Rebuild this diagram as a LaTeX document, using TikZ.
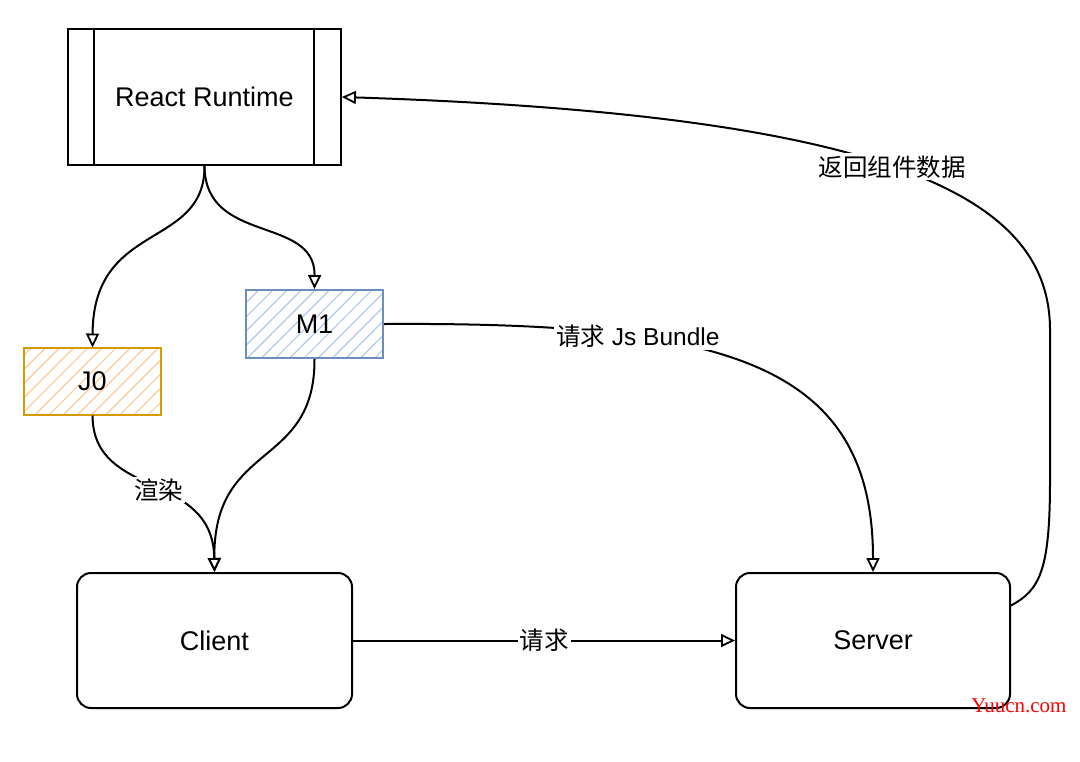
\documentclass[tikz,border=0pt]{standalone}
\usepackage{fontspec}
\setmainfont{Liberation Sans}
\newfontfamily\cjk{Noto Sans CJK SC}
\newfontfamily\wmfont{Liberation Serif}
\usetikzlibrary{arrows.meta,patterns.meta}
\definecolor{jline}{HTML}{D79B00}
\definecolor{jfill}{HTML}{FFC38A}
\definecolor{mline}{HTML}{6C8EBF}
\definecolor{mfill}{HTML}{A9C4EC}
\begin{document}
\begin{tikzpicture}[x=0.5pt,y=-0.5pt,
  nodetext/.style={font=\fontsize{13.5}{16}\selectfont},
  procbox/.style={draw,line width=0.9pt,nodetext,inner sep=0pt},
  roundbox/.style={draw,line width=1pt,rounded corners=7pt,nodetext,inner sep=0pt,minimum width=137.5pt,minimum height=67.5pt},
  jbox/.style={draw=jline,line width=1pt,pattern={Lines[angle=45,distance=5pt,line width=0.5pt]},pattern color=jfill,nodetext,inner sep=0pt,minimum width=68.5pt,minimum height=33.5pt},
  mbox/.style={draw=mline,line width=1pt,pattern={Lines[angle=45,distance=5pt,line width=0.5pt]},pattern color=mfill,nodetext,inner sep=0pt,minimum width=68.5pt,minimum height=34pt},
  conn/.style={line width=1pt,-{Triangle[open,length=7pt,width=6.5pt,line width=0.9pt]}},
  lbl/.style={fill=white,inner sep=1pt,font=\fontsize{12.25}{14}\selectfont},
]
\useasboundingbox (0,0) rectangle (1080,761);
\fill[white] (0,0) rectangle (1080,761);

\node[procbox,minimum width=136.5pt,minimum height=68pt] (rr) at (204.5,97) {React Runtime};
\draw[line width=0.9pt] ([xshift=13.5pt]rr.north west) -- ([xshift=13.5pt]rr.south west);
\draw[line width=0.9pt] ([xshift=-14pt]rr.north east) -- ([xshift=-14pt]rr.south east);

\node[jbox] (j0) at (92.5,381.5) {J0};
\node[mbox] (m1) at (314.5,324) {M1};
\node[roundbox] (clt) at (214.5,640.5) {Client};
\node[roundbox,minimum width=137pt] (srv) at (873,640.5) {Server};

\draw[conn] (rr.south) .. controls (205,250) and (93,220) .. (j0.north);
\draw[conn] (rr.south) .. controls (205,245) and (315,215) .. (m1.north);
\draw[conn] (j0.south) .. controls (93,500) and (213,470) .. node[lbl,pos=0.53] (lrender) {\cjk 渲染} (clt.north);
\draw[conn] (m1.south) .. controls (315,470) and (213,440) .. (clt.north);
\draw[conn] (m1.east) .. controls (720,322) and (873,360) .. node[lbl,pos=0.3] (lbundle) {{\cjk 请求} Js Bundle} (srv.north);
\draw[conn] (clt.east) -- node[lbl] (lreq) {\cjk 请求} (srv.west);
\draw[conn] ([yshift=17.5pt]srv.east) .. controls (1040,590) and (1050,570) .. (1050,480) -- (1050,330) .. controls (1050,200) and (900,115) .. node[lbl,pos=0.52] (lret) {\cjk 返回组件数据} (rr.east);

\node[text=red,font=\wmfont\fontsize{10.5}{12}\selectfont,inner sep=0pt] (wm) at (1019,706) {Yuucn.com};
\end{tikzpicture}
\end{document}
